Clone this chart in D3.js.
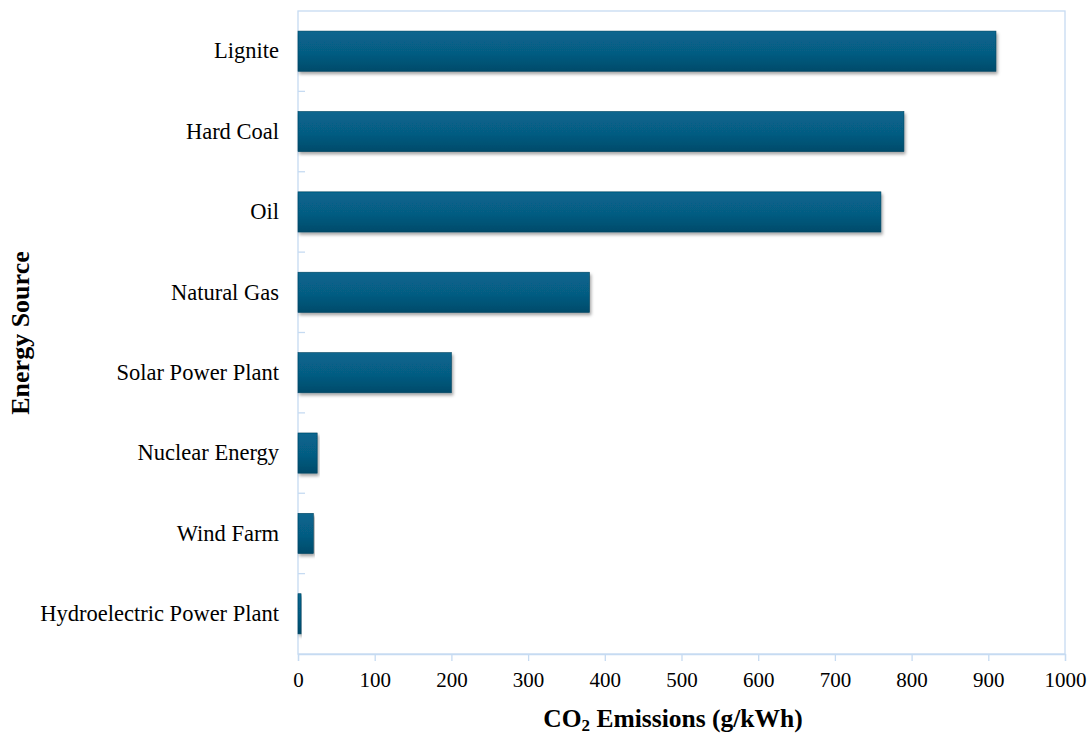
<!DOCTYPE html>
<html>
<head>
<meta charset="utf-8">
<script src="https://cdn.jsdelivr.net/npm/d3@7/dist/d3.min.js"></script>
<style>
  html, body { margin: 0; padding: 0; background: #fff; }
  svg { display: block; }
</style>
</head>
<body>
<svg id="chart" width="1092" height="738"></svg>
<script>
// Lifecycle CO2 emissions per energy source
const categories = ["Lignite", "Hard Coal", "Oil", "Natural Gas", "Solar Power Plant", "Nuclear Energy", "Wind Farm", "Hydroelectric Power Plant"];
const emissions = [910, 790, 760, 380, 200, 25, 20, 4];
const xTicks = [0, 100, 200, 300, 400, 500, 600, 700, 800, 900, 1000];

const data = categories.map((c, i) => ({ name: c, value: emissions[i] }));

const svg = d3.select("#chart");
const margin = { top: 11, right: 27, bottom: 84, left: 298 };
const width = 1092 - margin.left - margin.right;
const height = 738 - margin.top - margin.bottom;
const serif = "'Liberation Serif', 'Times New Roman', serif";

const defs = svg.append("defs");
const grad = defs.append("linearGradient")
  .attr("id", "barFill").attr("x1", 0).attr("y1", 0).attr("x2", 0).attr("y2", 1);
grad.append("stop").attr("offset", "0%").attr("stop-color", "#08668f");
grad.append("stop").attr("offset", "55%").attr("stop-color", "#065c82");
grad.append("stop").attr("offset", "100%").attr("stop-color", "#044b6a");

const shadow = defs.append("filter").attr("id", "barShadow")
  .attr("x", "-5%").attr("y", "-20%").attr("width", "115%").attr("height", "150%");
shadow.append("feDropShadow")
  .attr("dx", 1.5).attr("dy", 2.5).attr("stdDeviation", 1.6)
  .attr("flood-color", "#000").attr("flood-opacity", 0.35);

const g = svg.append("g").attr("transform", `translate(${margin.left},${margin.top})`);

const x = d3.scaleLinear().domain([0, 1000]).range([0, width]);
const y = d3.scaleBand().domain(categories).range([0, height]).paddingInner(0.5).paddingOuter(0.25);
const yEdges = d3.scaleLinear().domain([0, categories.length]).range([0, height]);

const axisColor = "#c6dbf2";

// plot frame
g.append("rect")
  .attr("x", 0).attr("y", 0).attr("width", width).attr("height", height)
  .attr("fill", "none").attr("stroke", axisColor).attr("stroke-width", 1.3);

// category separators on the left axis
g.selectAll("line.sep")
  .data(d3.range(1, categories.length))
  .join("line")
  .attr("class", "sep")
  .attr("x1", 0).attr("x2", 7)
  .attr("y1", d => yEdges(d)).attr("y2", d => yEdges(d))
  .attr("stroke", axisColor).attr("stroke-width", 1.3);

// bars
g.selectAll("rect.bar")
  .data(data)
  .join("rect")
  .attr("class", "bar")
  .attr("x", 0)
  .attr("y", d => y(d.name))
  .attr("width", d => x(d.value))
  .attr("height", y.bandwidth())
  .attr("fill", "url(#barFill)")
  .attr("stroke", "#03445f")
  .attr("stroke-width", 0.6)
  .attr("filter", "url(#barShadow)");

// x axis
const xAxis = d3.axisBottom(x).tickValues(xTicks).tickSize(7).tickPadding(11).tickFormat(d3.format("d"));
const xg = g.append("g").attr("transform", `translate(0,${height})`).call(xAxis);
xg.select(".domain").attr("stroke", axisColor).attr("stroke-width", 1.3);
xg.selectAll(".tick line").attr("stroke", axisColor).attr("stroke-width", 1.3);
xg.selectAll(".tick text")
  .attr("fill", "#000")
  .style("font-family", serif)
  .style("font-size", "21px");

// y axis labels
const yAxis = d3.axisLeft(y).tickSize(0).tickPadding(19);
const yg = g.append("g").call(yAxis);
yg.select(".domain").remove();
yg.selectAll(".tick text")
  .attr("fill", "#000")
  .style("font-family", serif)
  .style("font-size", "22.5px");

// axis titles
const xTitle = svg.append("text")
  .attr("x", 673)
  .attr("y", 727)
  .attr("text-anchor", "middle")
  .style("font-family", serif)
  .style("font-size", "25.5px")
  .style("font-weight", "bold");
xTitle.append("tspan").text("CO");
xTitle.append("tspan").attr("dy", 4).style("font-size", "17px").text("2");
xTitle.append("tspan").attr("dy", -4).text(" Emissions (g/kWh)");

svg.append("text")
  .attr("transform", `translate(29,333) rotate(-90)`)
  .attr("text-anchor", "middle")
  .style("font-family", serif)
  .style("font-size", "26px")
  .style("font-weight", "bold")
  .text("Energy Source");
</script>
</body>
</html>
